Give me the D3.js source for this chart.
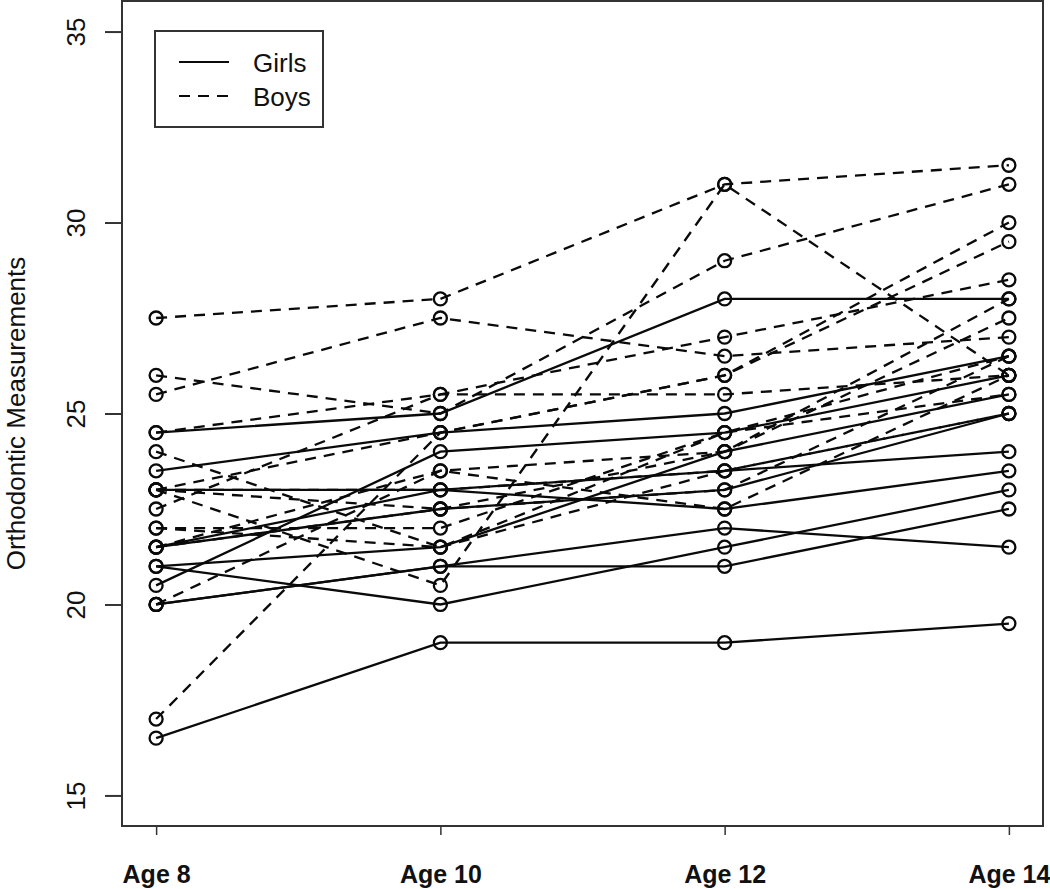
<!DOCTYPE html>
<html>
<head>
<meta charset="utf-8">
<script src="https://cdn.jsdelivr.net/npm/d3@7"></script>
<style>
html,body{margin:0;padding:0;background:#fff;}
svg{display:block;}
text{font-family:"Liberation Sans",Arial,sans-serif;fill:#111;}
</style>
</head>
<body>
<svg id="chart" width="1050" height="889"></svg>
<script>
// Tick labels / categories
const ages = ["Age 8", "Age 10", "Age 12", "Age 14"];
const yTicks = [15, 20, 25, 30, 35];

// Girls (solid)
const girls = [
  [21, 20, 21.5, 23],
  [21, 21.5, 24, 25.5],
  [20.5, 24, 24.5, 26],
  [23.5, 24.5, 25, 26.5],
  [21.5, 23, 22.5, 23.5],
  [20, 21, 21, 22.5],
  [21.5, 22.5, 23, 25],
  [23, 23, 23.5, 24],
  [20, 21, 22, 21.5],
  [16.5, 19, 19, 19.5],
  [24.5, 25, 28, 28]
];

// Boys (dashed)
const boys = [
  [26, 25, 29, 31],
  [21.5, 22.5, 23, 26.5],
  [23, 22.5, 24, 27.5],
  [25.5, 27.5, 26.5, 27],
  [20, 23.5, 22.5, 26],
  [24.5, 25.5, 27, 28.5],
  [22, 22, 24.5, 26.5],
  [24, 21.5, 24.5, 25.5],
  [23, 20.5, 31, 26],
  [27.5, 28, 31, 31.5],
  [23, 23, 23.5, 25],
  [21.5, 23.5, 24, 28],
  [17, 24.5, 26, 29.5],
  [22.5, 25.5, 25.5, 26],
  [23, 24.5, 26, 30],
  [22, 21.5, 23.5, 25]
];

const legendItems = ["Girls", "Boys"];
const yLabel = "Orthodontic Measurements";

const svg = d3.select("#chart");
const L = 122, R = 1043, T = 1, B = 826;
const ink = "#0a0a0a";

// R-style 4% expansion
const x = d3.scaleLinear().domain([1 - 0.12, 4 + 0.12]).range([L, R]);
const y = d3.scaleLinear().domain([15 - 0.8, 35 + 0.8]).range([B, T]);

// plot box
svg.append("rect").attr("x", L).attr("y", T).attr("width", R - L).attr("height", B - T)
  .attr("fill", "none").attr("stroke", "#333").attr("stroke-width", 2);

// y axis
const yAxis = d3.axisLeft(y).tickValues(yTicks).tickSize(17).tickFormat(d3.format("d"));
const gy = svg.append("g").attr("transform", `translate(${L},0)`).call(yAxis);
gy.select(".domain").remove();
gy.selectAll(".tick line").attr("stroke", "#333").attr("stroke-width", 2);
gy.selectAll(".tick text")
  .attr("x", null).attr("dy", null)
  .attr("transform", "translate(-37,0) rotate(-90)")
  .attr("text-anchor", "middle")
  .attr("font-size", 26)
  .attr("fill", ink);

// x axis
const xAxis = d3.axisBottom(x).tickValues([1, 2, 3, 4]).tickSize(9).tickFormat((d, i) => ages[i]);
const gx = svg.append("g").attr("transform", `translate(0,${B})`).call(xAxis);
gx.select(".domain").remove();
gx.selectAll(".tick line").attr("stroke", "#333").attr("stroke-width", 1.5);
gx.selectAll(".tick text")
  .attr("y", 57).attr("dy", null)
  .attr("font-size", 25).attr("font-weight", "bold")
  .attr("fill", ink);

// y label
svg.append("text")
  .attr("transform", `translate(25,${(T + B) / 2}) rotate(-90)`)
  .attr("text-anchor", "middle")
  .attr("font-size", 26)
  .text(yLabel);

const line = d3.line().x((d, i) => x(i + 1)).y(d => y(d));

function drawGroup(data, dash) {
  const g = svg.append("g");
  data.forEach(s => {
    g.append("path").attr("d", line(s)).attr("fill", "none")
      .attr("stroke", ink).attr("stroke-width", 2.3)
      .attr("stroke-dasharray", dash);
    g.selectAll(null).data(s).enter().append("circle")
      .attr("cx", (d, i) => x(i + 1)).attr("cy", d => y(d)).attr("r", 6.5)
      .attr("fill", "none").attr("stroke", ink).attr("stroke-width", 2.3);
  });
}
drawGroup(girls, null);
drawGroup(boys, "11,8");

// legend
const lg = svg.append("g");
lg.append("rect").attr("x", 155).attr("y", 31).attr("width", 168).attr("height", 96)
  .attr("fill", "#fff").attr("stroke", "#333").attr("stroke-width", 2);
legendItems.forEach((name, i) => {
  const yy = 62 + i * 34;
  lg.append("line").attr("x1", 179).attr("x2", 229).attr("y1", yy).attr("y2", yy)
    .attr("stroke", ink).attr("stroke-width", 2)
    .attr("stroke-dasharray", i === 1 ? "11,8" : null);
  lg.append("text").attr("x", 253).attr("y", yy + 10).attr("font-size", 26).text(name);
});
</script>
</body>
</html>
